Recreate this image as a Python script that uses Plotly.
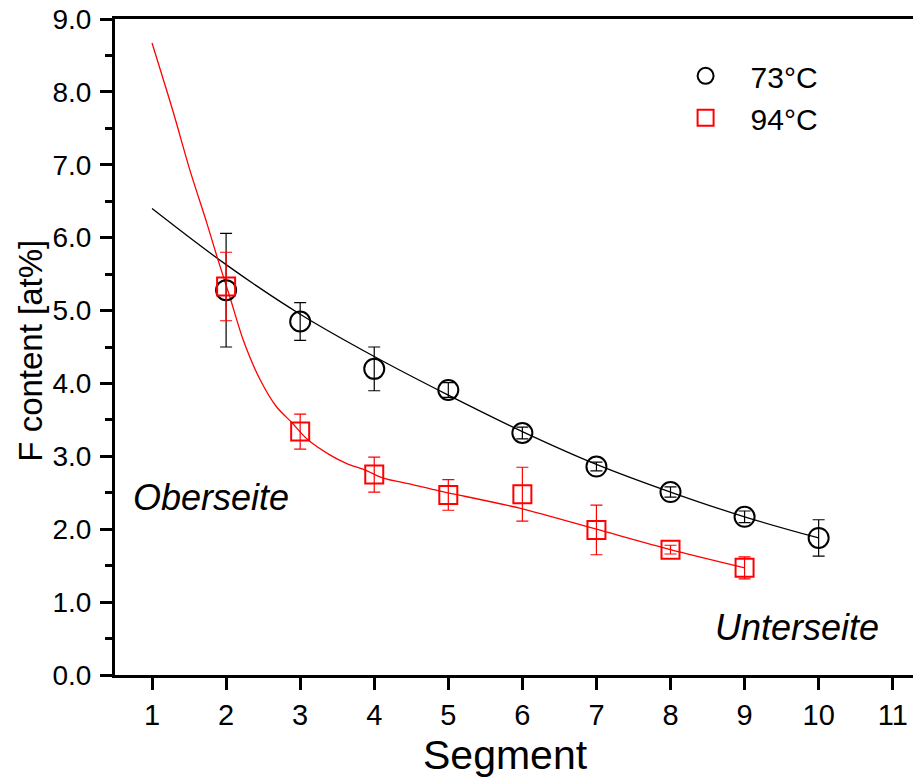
import plotly.graph_objects as go

# Measured data
segments_73 = [2, 3, 4, 5, 6, 7, 8, 9, 10]
f_73 = [5.28, 4.85, 4.20, 3.91, 3.32, 2.86, 2.51, 2.17, 1.88]
err_73 = [0.78, 0.26, 0.30, 0.10, 0.08, 0.06, 0.07, 0.08, 0.25]

segments_94 = [2, 3, 4, 5, 6, 7, 8, 9]
f_94 = [5.33, 3.34, 2.75, 2.47, 2.48, 1.99, 1.72, 1.47]
err_94 = [0.47, 0.24, 0.24, 0.21, 0.37, 0.34, 0.06, 0.15]

# Fit curves
fit73_x = [1, 2, 3, 4, 5, 6, 7, 8, 9, 10]
fit73_y = [6.40, 5.63, 4.95, 4.37, 3.84, 3.34, 2.89, 2.51, 2.17, 1.88]

fit94_x = [1, 1.29, 1.51, 1.74, 1.88, 2.05, 2.23, 2.46, 2.68, 2.89, 3.1, 3.4,
           3.63, 3.88, 4.12, 4.53, 4.86, 6, 7, 8, 9]
fit94_y = [8.67, 7.71, 6.93, 6.20, 5.73, 5.19, 4.60, 4.05, 3.68, 3.46, 3.23, 3.02,
           2.90, 2.81, 2.70, 2.61, 2.53, 2.28, 2.00, 1.72, 1.47]

x_ticks = list(range(1, 12))
y_ticks = [0, 1, 2, 3, 4, 5, 6, 7, 8, 9]

FONT = "Arial, Liberation Sans, sans-serif"

fig = go.Figure()
fig.add_trace(go.Scatter(x=fit73_x, y=fit73_y, mode="lines", line=dict(color="black", width=1.3, shape="spline"),
                         showlegend=False, hoverinfo="skip"))
fig.add_trace(go.Scatter(x=fit94_x, y=fit94_y, mode="lines", line=dict(color="red", width=1.3, shape="spline", smoothing=0.8),
                         showlegend=False, hoverinfo="skip"))
fig.add_trace(go.Scatter(x=segments_73, y=f_73, mode="markers", name="73°C",
                         marker=dict(symbol="circle-open", size=20, color="black", line=dict(width=2, color="black")),
                         error_y=dict(type="data", array=err_73, color="black", thickness=1.2, width=6)))
fig.add_trace(go.Scatter(x=segments_94, y=f_94, mode="markers", name="94°C",
                         marker=dict(symbol="square-open", size=18, color="red", line=dict(width=2, color="red")),
                         error_y=dict(type="data", array=err_94, color="red", thickness=1.2, width=6)))

fig.add_annotation(x=1.80, y=2.44, xref="x", yref="y", text="<i>Oberseite</i>", showarrow=False,
                   font=dict(family=FONT, size=36, color="black"))
fig.add_annotation(x=9.71, y=0.65, xref="x", yref="y", text="<i>Unterseite</i>", showarrow=False,
                   font=dict(family=FONT, size=36, color="black"))
fig.add_annotation(x=0.489, y=-0.122, xref="paper", yref="paper", text="Segment", showarrow=False,
                   font=dict(family=FONT, size=41, color="black"), yanchor="middle")
fig.add_annotation(x=-0.106, y=0.495, xref="paper", yref="paper", text="F content [at%]", showarrow=False,
                   textangle=-90, font=dict(family=FONT, size=33, color="black"), xanchor="center")

fig.update_layout(
    width=913, height=781,
    margin=dict(l=115, r=0, t=19, b=106),
    paper_bgcolor="white", plot_bgcolor="white",
    font=dict(family=FONT, color="black"),
    showlegend=True,
    legend=dict(x=0.6837, y=0.953, xanchor="left", yanchor="top", bgcolor="rgba(0,0,0,0)",
                font=dict(family=FONT, size=30, color="black"), itemwidth=80),
    xaxis=dict(range=[0.5, 11.274], tickvals=x_ticks, ticktext=[str(v) for v in x_ticks],
               showgrid=False, zeroline=False, showline=True, linecolor="black", linewidth=3,
               mirror=True, ticks="outside", ticklen=12, tickwidth=3, tickcolor="black",
               tickfont=dict(family=FONT, size=29, color="black")),
    yaxis=dict(range=[0, 9], tickvals=y_ticks, tickformat=".1f",
               showgrid=False, zeroline=False, showline=True, linecolor="black", linewidth=3,
               ticks="outside", ticklen=12, tickwidth=3, tickcolor="black", ticklabelstandoff=3,
               tickfont=dict(family=FONT, size=28, color="black"),
               minor=dict(dtick=0.5, ticks="outside", ticklen=7, tickwidth=3, tickcolor="black", showgrid=False)),
)

fig.write_html("out.html", config={"displayModeBar": False},
               post_script="document.body.style.margin='0';document.body.style.overflow='hidden';")
